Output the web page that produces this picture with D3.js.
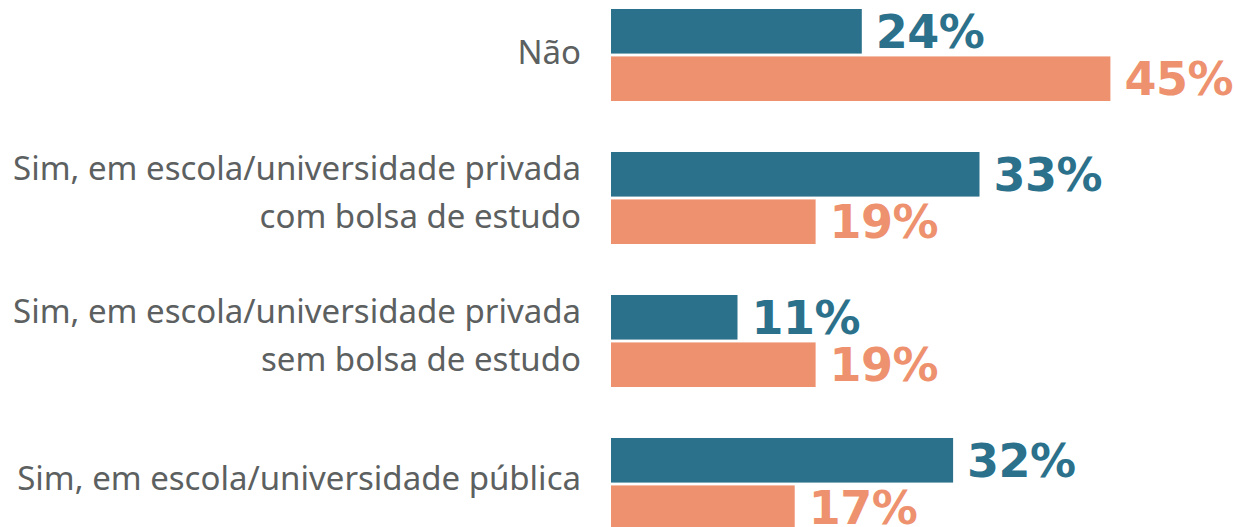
<!DOCTYPE html>
<html>
<head>
<meta charset="utf-8">
<script src="https://cdn.jsdelivr.net/npm/d3@7"></script>
<style>
  body { margin: 0; background: #fff; }
  svg { display: block; }
</style>
</head>
<body>
<div id="chart"></div>
<script>
// categories (each line of the label)
var categories = [
    ["Não"],
    ["Sim, em escola/universidade privada", "com bolsa de estudo"],
    ["Sim, em escola/universidade privada", "sem bolsa de estudo"],
    ["Sim, em escola/universidade pública"]
];
var series = ["a", "b"];
var colors = ["#2b718b", "#ee916e"];

// bar lengths
var valuesA = [22.8, 33.5, 11.5, 31.1];
var valuesB = [45.4, 18.6, 18.6, 16.7];

// printed labels
var labelsA = ["24%", "33%", "11%", "32%"];
var labelsB = ["45%", "19%", "19%", "17%"];

var width = 1235, height = 527;

var svg = d3.select("#chart").append("svg")
    .attr("width", width)
    .attr("height", height);

var idx = d3.range(categories.length);

// set the ranges
var y = d3.scaleBand().domain(idx).range([9, 530]).paddingInner(0.3566).paddingOuter(0);
var y1 = d3.scaleBand().domain(series).range([0, y.bandwidth()]).paddingInner(0.06);
var x = d3.scaleLinear().domain([0, 100]).range([611, 1711]);

var rows = idx.map(function(i) {
    return [
        {s: "a", v: valuesA[i], label: labelsA[i], color: colors[0]},
        {s: "b", v: valuesB[i], label: labelsB[i], color: colors[1]}
    ];
});

var g = svg.selectAll("g.group")
    .data(rows)
    .enter().append("g")
    .attr("class", "group")
    .attr("transform", (d, i) => "translate(0," + y(i) + ")");

// bars
g.selectAll("rect")
    .data(d => d)
    .enter().append("rect")
    .attr("x", x(0))
    .attr("y", d => y1(d.s))
    .attr("width", d => x(d.v) - x(0))
    .attr("height", y1.bandwidth())
    .attr("fill", d => d.color);

// value labels
g.selectAll("text.val")
    .data(d => d)
    .enter().append("text")
    .attr("class", "val")
    .attr("x", d => x(d.v) + 14)
    .attr("y", d => y1(d.s) + y1.bandwidth() / 2)
    .attr("dy", "0.36em")
    .attr("fill", d => d.color)
    .style("font-family", "'DejaVu Sans', sans-serif")
    .style("font-weight", 700)
    .style("font-size", "46px")
    .style("letter-spacing", "-0.5px")
    .text(d => d.label);

// category labels
var lineH = 48;
var cats = svg.selectAll("text.cat")
    .data(categories)
    .enter().append("text")
    .attr("class", "cat")
    .attr("text-anchor", "end")
    .attr("fill", "#5c6060")
    .style("font-family", "'Noto Sans', sans-serif")
    .style("font-size", "30px")
    .each(function(lines, i) {
        var cy = y(i) + y.bandwidth() / 2 - (i === 0 ? 3 : 6);
        var top = cy - (lines.length - 1) * lineH / 2;
        d3.select(this).selectAll("tspan")
            .data(lines)
            .enter().append("tspan")
            .attr("x", 581)
            .attr("y", (l, j) => top + j * lineH)
            .attr("dy", "0.36em")
            .text(l => l);
    });

// fit the widest label line to the width seen in the picture
var widest = d3.max(cats.selectAll("tspan").nodes(), n => n.getComputedTextLength());
cats.style("font-size", (30 * 568 / widest).toFixed(1) + "px");
</script>
</body>
</html>
